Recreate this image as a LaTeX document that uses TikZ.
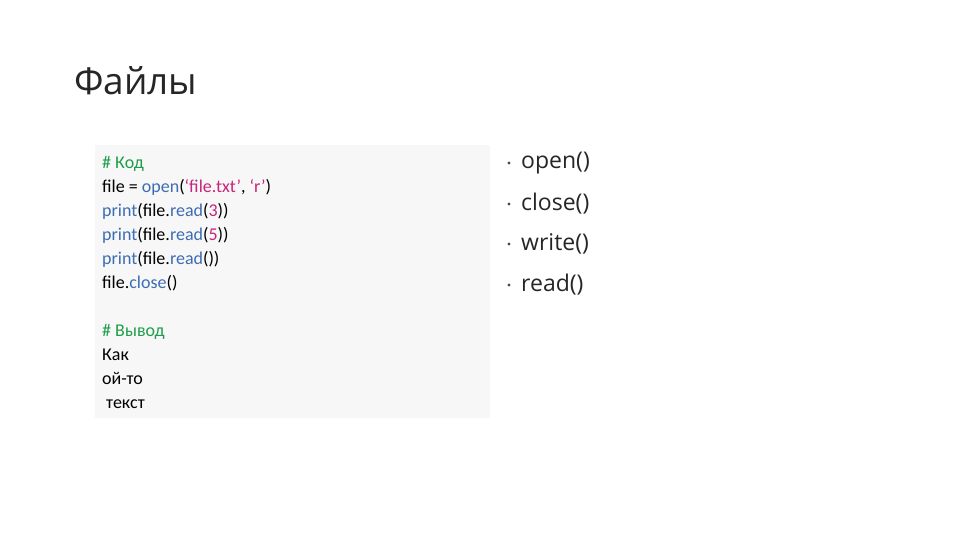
\documentclass[tikz,border=0pt]{standalone}
\usepackage{fontspec}
\setmainfont{Open Sans}
\newfontfamily\codefont{Carlito}
\definecolor{cgreen}{HTML}{1E9E4A}
\definecolor{cblue}{HTML}{3C6DB4}
\definecolor{cpink}{HTML}{C8247A}
\definecolor{boxbg}{HTML}{F7F7F7}
\begin{document}
\begin{tikzpicture}[x=1pt,y=-1pt,
  codeline/.style={anchor=base west,inner sep=0pt,font=\codefont\fontsize{18}{18}\selectfont,text=black},
  bullet/.style={anchor=west,inner sep=0pt,font=\fontsize{23}{23}\selectfont\addfontfeatures{Weight=300},text=black!85}]
\useasboundingbox (0,0) rectangle (960,540);
\fill[white] (0,0) rectangle (960,540);
\node[anchor=west,inner sep=0pt,font=\fontsize{37}{37}\selectfont,text=black!85] (title) at (74,81) {Файлы};
\fill[boxbg] (95,145) rectangle (490,418);
\node[codeline] (l1) at (102,168) {\textcolor{cgreen}{\# Код}};
\node[codeline] (l2) at (102,192) {file = \textcolor{cblue}{open}(\textcolor{cpink}{‘file.txt’}, \textcolor{cpink}{‘r’})};
\node[codeline] (l3) at (102,216) {\textcolor{cblue}{print}(file.\textcolor{cblue}{read}(\textcolor{cpink}{3}))};
\node[codeline] (l4) at (102,240) {\textcolor{cblue}{print}(file.\textcolor{cblue}{read}(\textcolor{cpink}{5}))};
\node[codeline] (l5) at (102,264) {\textcolor{cblue}{print}(file.\textcolor{cblue}{read}())};
\node[codeline] (l6) at (102,288) {file.\textcolor{cblue}{close}()};
\node[codeline] (l7) at (102,336) {\textcolor{cgreen}{\# Вывод}};
\node[codeline] (l8) at (102,360) {Как};
\node[codeline] (l9) at (102,384) {ой-то};
\node[codeline] (l10) at (106,408) {текст};
\foreach \y/\t [count=\i] in {163/open(),204/close(),244/write(),285/read()}{
  \fill[black!70] (509,\y) circle (1.6);
  \node[bullet] (b\i) at (521,\y) {\t};
}
\end{tikzpicture}
\end{document}
